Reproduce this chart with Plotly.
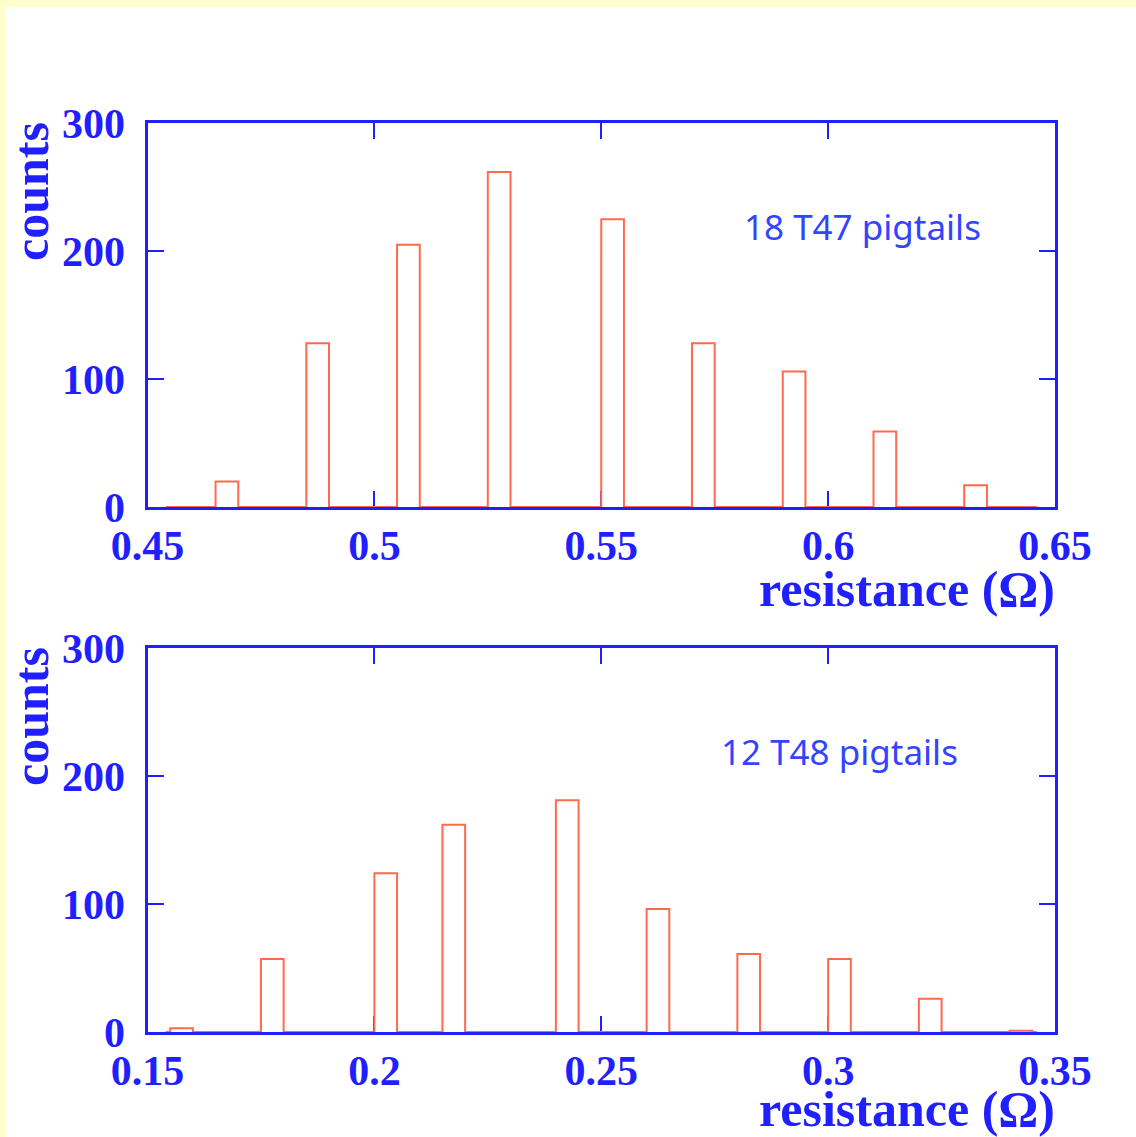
import plotly.graph_objects as go

# Resistance histograms for two pigtail batches (bin width 0.005 ohm)
BIN_WIDTH = 0.005

t47_bin_left = [0.465, 0.485, 0.505, 0.525, 0.550, 0.570, 0.590, 0.610, 0.630]
t47_counts = [20, 128, 205, 262, 225, 128, 106, 59, 17]
t47_span = [0.454, 0.646]

t48_bin_left = [0.155, 0.175, 0.200, 0.215, 0.240, 0.260, 0.280, 0.300, 0.320, 0.340]
t48_counts = [3, 57, 124, 162, 181, 96, 61, 57, 26, 1]
t48_span = [0.154, 0.346]

top_ticks = [0.45, 0.5, 0.55, 0.6, 0.65]
bottom_ticks = [0.15, 0.2, 0.25, 0.3, 0.35]
count_ticks = [0, 100, 200, 300]

BLUE = "#1f1fff"
RED = "#ff6a4d"
W, H = 1136, 1137


def step_outline(lefts, counts, span):
    xs, ys = [span[0]], [0]
    for left, c in zip(lefts, counts):
        right = left + BIN_WIDTH
        xs += [left, left, right, right]
        ys += [0, c, c, 0]
    xs.append(span[1])
    ys.append(0)
    return xs, ys


fig = go.Figure()

x1, y1 = step_outline(t47_bin_left, t47_counts, t47_span)
fig.add_trace(go.Scatter(x=x1, y=y1, mode="lines", xaxis="x", yaxis="y",
                         line=dict(color=RED, width=2), showlegend=False))
x2, y2 = step_outline(t48_bin_left, t48_counts, t48_span)
fig.add_trace(go.Scatter(x=x2, y=y2, mode="lines", xaxis="x2", yaxis="y2",
                         line=dict(color=RED, width=2), showlegend=False))

tick_font = dict(family="Liberation Serif", size=42, color=BLUE, weight="bold")

px_x = [147.5 / W, 1055 / W]
top_y = [(H - 507) / H, (H - 123.3) / H]
bot_y = [(H - 1032) / H, (H - 648) / H]


def xaxis_cfg(ticks, rng, anchor):
    return dict(domain=px_x, range=rng, anchor=anchor, automargin=False,
                tickvals=ticks, ticktext=[f"{t:g}" for t in ticks],
                ticks="inside", ticklen=16, tickwidth=2, tickcolor=BLUE,
                showline=True, linecolor=BLUE, linewidth=3, mirror="ticks",
                showgrid=False, zeroline=False, tickfont=tick_font,
                ticklabelstandoff=0, layer="below traces")


def yaxis_cfg(dom, anchor):
    return dict(domain=dom, range=[0, 300], anchor=anchor, automargin=False,
                tickvals=count_ticks, ticktext=[str(t) for t in count_ticks],
                ticks="inside", ticklen=16, tickwidth=2, tickcolor=BLUE,
                showline=True, linecolor=BLUE, linewidth=3, mirror="ticks",
                showgrid=False, zeroline=False, tickfont=tick_font,
                ticklabelstandoff=11, layer="below traces")


fig.update_layout(
    width=W, height=H, autosize=False,
    margin=dict(l=0, r=0, t=0, b=0, pad=0, autoexpand=False),
    paper_bgcolor="white", plot_bgcolor="white",
    xaxis=xaxis_cfg(top_ticks, [0.45, 0.65], "y"),
    yaxis=yaxis_cfg(top_y, "x"),
    xaxis2=xaxis_cfg(bottom_ticks, [0.15, 0.35], "y2"),
    yaxis2=yaxis_cfg(bot_y, "x2"),
)

label_font = dict(family="Liberation Serif", size=50, color=BLUE, weight="bold")
note_font = dict(family="Noto Sans", size=35, color="#3344ff")

annotations = []
for y_title, y_counts, note, note_x, note_y in [
    (589, 192, "18 T47 pigtails", 862, 226),
    (1109, 717, "12 T48 pigtails", 839, 751),
]:
    annotations.append(dict(text="resistance (Ω)", xref="paper", yref="paper",
                            x=1057 / W, y=(H - y_title) / H, xanchor="right",
                            yanchor="middle", showarrow=False, font=label_font))
    annotations.append(dict(text="counts", xref="paper", yref="paper",
                            x=31 / W, y=(H - y_counts) / H, xanchor="center",
                            yanchor="middle", textangle=-90, showarrow=False,
                            font=label_font))
    annotations.append(dict(text=note, xref="paper", yref="paper",
                            x=note_x / W, y=(H - note_y) / H, xanchor="center",
                            yanchor="middle", showarrow=False, font=note_font))
fig.update_layout(annotations=annotations)

# pale frame strips along the top and left edges
fig.update_layout(shapes=[
    dict(type="rect", xref="paper", yref="paper", x0=0, x1=1, y0=1 - 7 / H, y1=1,
         fillcolor="#ffffcc", line=dict(width=0), layer="below"),
    dict(type="rect", xref="paper", yref="paper", x0=0, x1=5 / W, y0=0, y1=1,
         fillcolor="#ffffcc", line=dict(width=0), layer="below"),
])

fig.write_html("out.html")
